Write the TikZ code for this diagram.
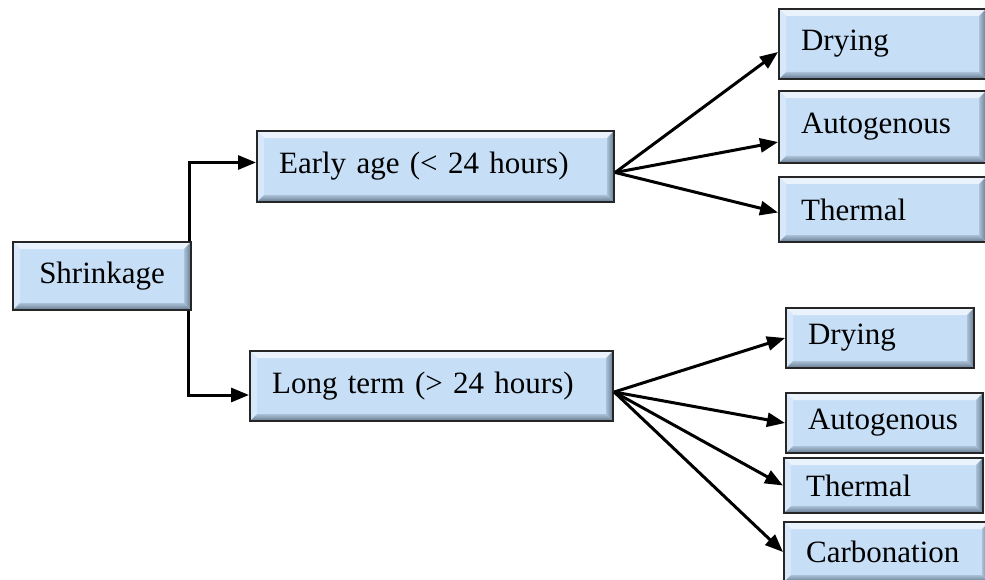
\documentclass[tikz,border=0pt]{standalone}
\usepackage{fontspec}
\setmainfont{Liberation Serif}
\usetikzlibrary{arrows.meta}
\definecolor{boxblue}{HTML}{C6DFF7}
\definecolor{bevlight}{HTML}{EAF3FC}
\definecolor{bevleft}{HTML}{D6E8F9}
\definecolor{bevmid}{HTML}{A9C0D6}
\definecolor{bevdark}{HTML}{65798E}
\tikzset{
  bevel/.style={path picture={
      \path (path picture bounding box.north west) coordinate (bvnw)
            (path picture bounding box.north east) coordinate (bvne)
            (path picture bounding box.south east) coordinate (bvse)
            (path picture bounding box.south west) coordinate (bvsw);
      \fill[bevlight] (bvnw) -- (bvne) -- ([shift={(-7pt,-7pt)}]bvne) -- ([shift={(7pt,-7pt)}]bvnw) -- cycle;
      \fill[bevleft] (bvnw) -- ([shift={(7pt,-7pt)}]bvnw) -- ([shift={(7pt,7pt)}]bvsw) -- (bvsw) -- cycle;
      \shade[left color=bevmid, right color=bevdark] (bvne) -- (bvse) -- ([shift={(-7pt,7pt)}]bvse) -- ([shift={(-7pt,-7pt)}]bvne) -- cycle;
      \shade[top color=bevmid, bottom color=bevdark] (bvsw) -- ([shift={(7pt,7pt)}]bvsw) -- ([shift={(-7pt,7pt)}]bvse) -- (bvse) -- cycle;
    }},
  box/.style 2 args={draw=black!85, line width=2.2pt, fill=boxblue, bevel, anchor=west,
    inner xsep=22pt, inner ysep=0pt, text width=#1, minimum height=#2, align=left,
    font=\fontsize{31}{36}\selectfont},
  conn/.style={line width=3pt, line join=miter, -{Triangle[length=18pt,width=14pt]}}
}
\begin{document}
\begin{tikzpicture}[x=1pt, y=-1pt]
  \useasboundingbox (0,0) rectangle (985,580);
  % root
  \node[box={134pt}{68pt}, align=center] (shrink) at (12,276) {Shrinkage};
  % second level
  \node[box={313pt}{71pt}] (early) at (256,166.5) {Early age (< 24 hours)};
  \node[box={319pt}{70pt}] (long) at (249,386) {Long term (> 24 hours)};
  % early age branches
  \node[box={163pt}{70pt}] (dryA) at (778,44) {Drying};
  \node[box={163pt}{72pt}] (autoA) at (778,127) {Autogenous};
  \node[box={163pt}{65pt}] (thermA) at (778,209.5) {Thermal};
  % long term branches
  \node[box={144pt}{60pt}] (dryB) at (785,338) {Drying};
  \node[box={153pt}{60pt}] (autoB) at (785,423) {Autogenous};
  \node[box={155pt}{55pt}] (thermB) at (783,485.5) {Thermal};
  \node[box={161pt}{60pt}] (carbB) at (783,552) {Carbonation};
  % connectors
  \draw[conn] ([xshift=-3pt]shrink.north east) |- ([yshift=4pt]early.west);
  \draw[conn] ([xshift=-4pt]shrink.south east) |- ([yshift=-9pt]long.west);
  \draw[conn] ([yshift=-6pt]early.east) -- ([yshift=-8pt]dryA.west);
  \draw[conn] ([yshift=-6pt]early.east) -- ([yshift=-15pt]autoA.west);
  \draw[conn] ([yshift=-6pt]early.east) -- ([yshift=-3pt]thermA.west);
  \draw[conn] ([yshift=-6pt]long.east) -- (dryB.west);
  \draw[conn] ([yshift=-6pt]long.east) -- (autoB.west);
  \draw[conn] ([yshift=-6pt]long.east) -- (thermB.west);
  \draw[conn] ([yshift=-6pt]long.east) -- (carbB.west);
\end{tikzpicture}
\end{document}
